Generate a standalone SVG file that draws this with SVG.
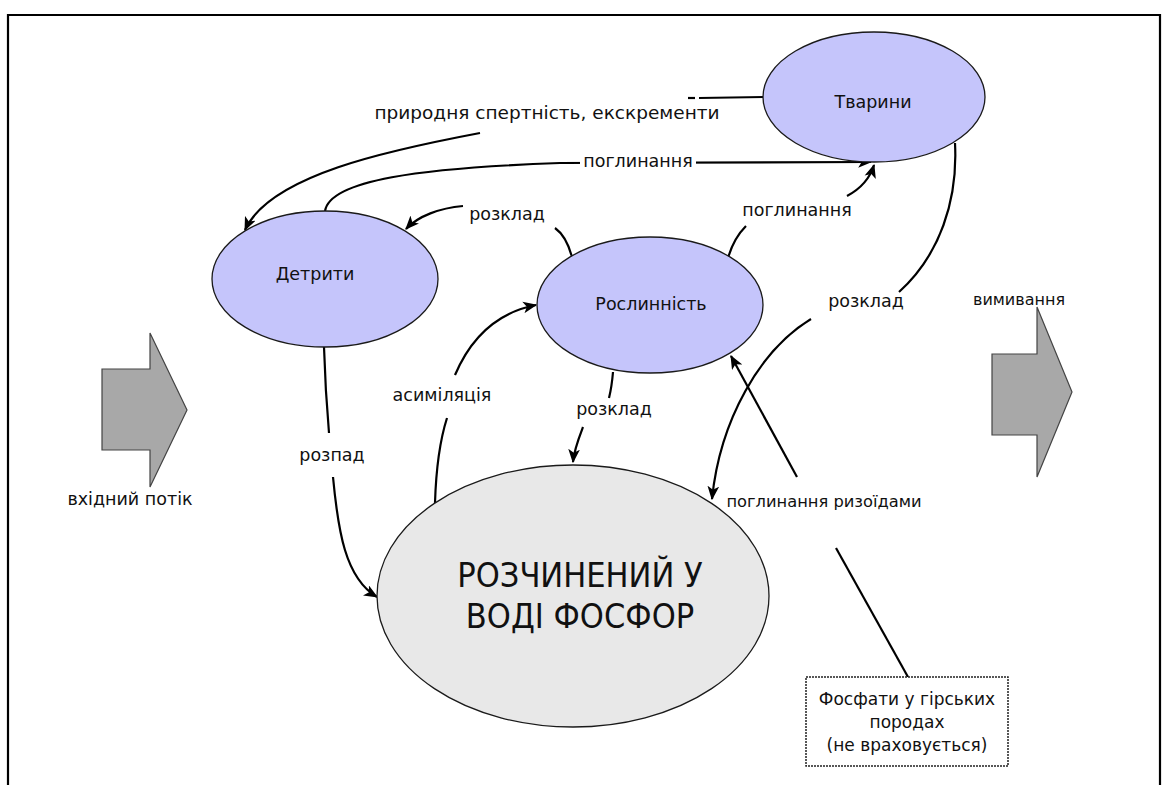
<svg xmlns="http://www.w3.org/2000/svg" width="1168" height="785" viewBox="0 0 1168 785">
<style>
.node{fill:#c5c5fb;stroke:#1a1a1a;stroke-width:1.3}
.bignode{fill:#e8e8e8;stroke:#1a1a1a;stroke-width:1.3}
.flow{fill:#a8a8a8;stroke:#444;stroke-width:1.2}
.c{fill:none;stroke:#000;stroke-width:2.2}
.lbl{font-family:'DejaVu Sans','Liberation Sans',sans-serif;font-size:17.5px;fill:#111}
.big{font-family:'DejaVu Sans Condensed','DejaVu Sans',sans-serif;font-stretch:condensed;font-size:34px;fill:#111}
.box{font-family:'DejaVu Sans','Liberation Sans',sans-serif;font-size:17px;fill:#111}
</style>
<defs>
<marker id="ah" viewBox="0 0 12 10" refX="11" refY="5" markerWidth="14" markerHeight="12" markerUnits="userSpaceOnUse" orient="auto">
<path d="M0,0 L12,5 L0,10 L3,5 z" fill="#000"/>
</marker>
</defs>
<rect width="1168" height="785" fill="#fff"/>
<path d="M8,800 L8,15 L1160,15 L1160,800" fill="none" stroke="#000" stroke-width="2.2"/>

<g id="connectors">
<path class="c" d="M688,98 L695,98"/>
<path class="c" d="M699,98 L764,97"/>
<path class="c" d="M480,133 C390,150 270,175 245,230" marker-end="url(#ah)"/>
<path class="c" d="M325,211 C330,180 420,168 560,163 L871,162" marker-end="url(#ah)"/>
<path class="c" d="M728,258 C732,244 738,234 746,226"/>
<path class="c" d="M847,196 C862,188 870,178 874,165" marker-end="url(#ah)"/>
<path class="c" d="M572,257 C568,242 562,233 555,228"/>
<path class="c" d="M463,206 C440,208 418,216 406,229" marker-end="url(#ah)"/>
<path class="c" d="M613,372 C612,384 611,390 609,398"/>
<path class="c" d="M583,427 C578,440 574,450 573,462" marker-end="url(#ah)"/>
<path class="c" d="M435,503 C436,470 440,440 447,418"/>
<path class="c" d="M455,375 C472,335 500,312 536,305" marker-end="url(#ah)"/>
<path class="c" d="M324,347 C325,380 327,410 329,433"/>
<path class="c" d="M333,477 C338,530 345,578 377,597" marker-end="url(#ah)"/>
<path class="c" d="M955,143 C958,200 940,255 899,292"/>
<path class="c" d="M811,319 C760,350 720,420 712,499" marker-end="url(#ah)"/>
<path class="c" d="M797,477 L731,356" marker-end="url(#ah)"/>
<path class="c" d="M836,548 L908,677"/>
</g>

<g id="labels">
<text class="lbl" x="547" y="119" text-anchor="middle" style="font-size:18.5px">природня спертність, екскременти</text>
<rect x="580" y="152" width="116" height="18" fill="#fff"/>
<text class="lbl" x="638" y="167" text-anchor="middle">поглинання</text>
<text class="lbl" x="507" y="220" text-anchor="middle">розклад</text>
<text class="lbl" x="797" y="216" text-anchor="middle">поглинання</text>
<text class="lbl" x="614" y="415" text-anchor="middle">розклад</text>
<text class="lbl" x="442" y="401" text-anchor="middle">асиміляція</text>
<text class="lbl" x="332" y="461" text-anchor="middle">розпад</text>
<text class="lbl" x="866" y="307" text-anchor="middle">розклад</text>
<text class="lbl" x="824" y="507" text-anchor="middle" style="font-size:16.3px">поглинання ризоїдами</text>
<text class="lbl" x="130" y="505" text-anchor="middle">вхідний потік</text>
<text class="lbl" x="1019" y="305" text-anchor="middle" style="font-size:16px">вимивання</text>
</g>

<g id="node-tvaryny">
<ellipse class="node" cx="874" cy="97" rx="111" ry="65"/>
<text class="lbl" x="873" y="108" text-anchor="middle">Тварини</text>
</g>
<g id="node-detryty">
<ellipse class="node" cx="325" cy="279" rx="113" ry="68"/>
<text class="lbl" x="315" y="280" text-anchor="middle">Детрити</text>
</g>
<g id="node-roslynnist">
<ellipse class="node" cx="650" cy="305" rx="113" ry="68"/>
<text class="lbl" x="651" y="310" text-anchor="middle">Рослинність</text>
</g>
<g id="node-fosfor">
<ellipse class="bignode" cx="573" cy="596" rx="196" ry="131"/>
<text class="big" x="580" y="587" text-anchor="middle">РОЗЧИНЕНИЙ У</text>
<text class="big" x="580" y="628" text-anchor="middle">ВОДІ ФОСФОР</text>
</g>
<g id="node-input">
<path class="flow" d="M102,369 L150,369 L150,333 L187,410 L150,487 L150,450 L102,450 Z"/>
</g>
<g id="node-output">
<path class="flow" d="M992,354 L1037,354 L1037,307 L1072,392 L1037,477 L1037,435 L992,435 Z"/>
</g>
<g id="node-rocks">
<rect x="806" y="677" width="202" height="89" fill="#fff" stroke="#222" stroke-width="1.5" stroke-dasharray="2 1"/>
<text class="box" x="907" y="705" text-anchor="middle">Фосфати у гірських</text>
<text class="box" x="907" y="728" text-anchor="middle">породах</text>
<text class="box" x="907" y="751" text-anchor="middle">(не враховується)</text>
</g>
</svg>
